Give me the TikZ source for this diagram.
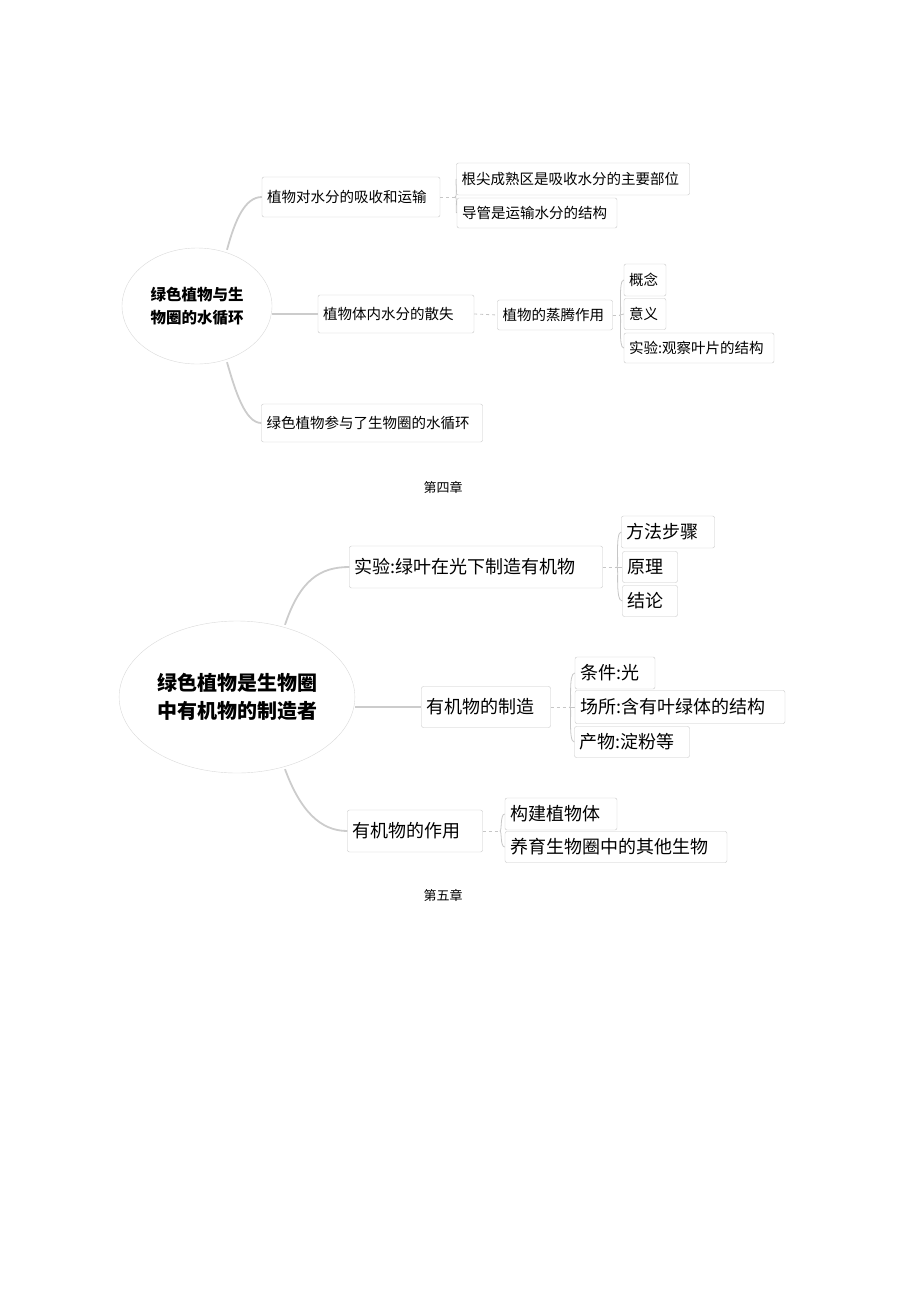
\documentclass[tikz,border=0pt]{standalone}
\usepackage{fontspec}
\usetikzlibrary{shapes.geometric}
\newfontfamily\cjk{Noto Sans CJK SC}
\begin{document}
\begin{tikzpicture}[x=1pt,y=-1pt,
  bx/.style={draw=gray!45,rounded corners=2pt,font=\cjk\fontsize{14.5}{16}\selectfont,inner xsep=5pt,inner ysep=0pt,minimum height=30pt,anchor=center,align=left,text width=#1pt},
  bxl/.style={bx=#1,font=\cjk\fontsize{18}{20}\selectfont},
  br/.style={draw=gray!40,line width=1.8pt},
  sb/.style={draw=gray!45,line width=0.8pt},
  dsh/.style={draw=gray!45,dashed,line width=0.8pt}]
\useasboundingbox (0,0) rectangle (920,1302);
% ---- chapter 4
\node[draw=gray!30,ellipse,minimum width=150pt,minimum height=116pt,align=center,font=\cjk\bfseries\fontsize{15.5}{23}\selectfont] (e1) at (197,306) {绿色植物与生\\物圈的水循环};
\node[bx=168,minimum height=40pt] (a) at (351,197) {植物对水分的吸收和运输};
\node[bx=223,minimum height=32pt] (a1) at (573,179) {根尖成熟区是吸收水分的主要部位};
\node[bx=150] (a2) at (537,213) {导管是运输水分的结构};
\node[bx=146,minimum height=38pt] (b) at (396,314) {植物体内水分的散失};
\node[bx=105] (c) at (555,315) {植物的蒸腾作用};
\node[bx=32,minimum height=32pt] (c1) at (645,280) {概念};
\node[bx=32,minimum height=31pt] (c2) at (645,314) {意义};
\node[bx=140] (c3) at (699,348) {实验:观察叶片的结构};
\node[bx=211,minimum height=38pt] (d) at (372,423) {绿色植物参与了生物圈的水循环};
\node[font=\cjk\fontsize{13}{15}\selectfont] (t4) at (443,487) {第四章};
\draw[br] (e1.north) ++(30,2) coordinate (e1t) .. controls (235,220) and (245,197) .. (a.west);
\draw[br] (e1.east |- b.west) -- (b.west);
\draw[br] (e1.south) ++(30,-2) coordinate (e1b) .. controls (235,390) and (245,423) .. (d.west);
\coordinate (ja) at (455,197);
\draw[dsh] (a.east) -- (ja);
\draw[sb] (ja) .. controls (458,197) and (455,179) .. (a1.west);
\draw[sb] (ja) .. controls (458,197) and (455,213) .. (a2.west);
\draw[dsh] (b.east) -- (c.west);
\coordinate (jc) at (620,315);
\draw[dsh] (c.east) -- (jc);
\draw[sb] (jc) .. controls (622,315) and (618,280) .. (c1.west);
\draw[sb] (jc) -- (c2.west);
\draw[sb] (jc) .. controls (622,315) and (618,348) .. (c3.west);
% ---- chapter 5
\node[draw=gray!30,ellipse,minimum width=226pt,minimum height=152pt,align=center,font=\cjk\bfseries\fontsize{20}{28}\selectfont] (e2) at (237,697) {绿色植物是生物圈\\中有机物的制造者};
\node[bxl=243,minimum height=42pt] (p) at (476,567) {实验:绿叶在光下制造有机物};
\node[bxl=83,minimum height=32pt] (p1) at (668,532) {方法步骤};
\node[bxl=45,minimum height=31pt] (p2) at (650,567) {原理};
\node[bxl=45,minimum height=31pt] (p3) at (650,601) {结论};
\node[bxl=119,minimum height=41pt] (q) at (486,707) {有机物的制造};
\node[bxl=70,minimum height=32pt] (q1) at (615,673) {条件:光};
\node[bxl=200,minimum height=33pt] (q2) at (680,707) {场所:含有叶绿体的结构};
\node[bxl=105,minimum height=31pt] (q3) at (632,742) {产物:淀粉等};
\node[bxl=125,minimum height=42pt] (r) at (415,831) {有机物的作用};
\node[bxl=102,minimum height=32pt] (r1) at (561,814) {构建植物体};
\node[bxl=212,minimum height=31pt] (r2) at (616,847) {养育生物圈中的其他生物};
\node[font=\cjk\fontsize{13}{15}\selectfont] (t5) at (443,895) {第五章};
\draw[br] (e2.north) ++(48,4) coordinate (e2t) .. controls (300,580) and (320,567) .. (p.west);
\draw[br] (e2.east |- q.west) -- (q.west);
\draw[br] (e2.south) ++(48,-4) coordinate (e2b) .. controls (300,810) and (320,831) .. (r.west);
\coordinate (jp) at (617,567);
\draw[dsh] (p.east) -- (jp);
\draw[sb] (jp) .. controls (619,567) and (615,532) .. (p1.west);
\draw[sb] (jp) -- (p2.west);
\draw[sb] (jp) .. controls (619,567) and (615,601) .. (p3.west);
\coordinate (jq) at (570,707);
\draw[dsh] (q.east) -- (jq);
\draw[sb] (jq) .. controls (572,707) and (568,673) .. (q1.west);
\draw[sb] (jq) -- (q2.west);
\draw[sb] (jq) .. controls (572,707) and (568,742) .. (q3.west);
\coordinate (jr) at (500,831);
\draw[dsh] (r.east) -- (jr);
\draw[sb] (jr) .. controls (502,831) and (500,814) .. (r1.west);
\draw[sb] (jr) .. controls (502,831) and (500,847) .. (r2.west);
\end{tikzpicture}
\end{document}
